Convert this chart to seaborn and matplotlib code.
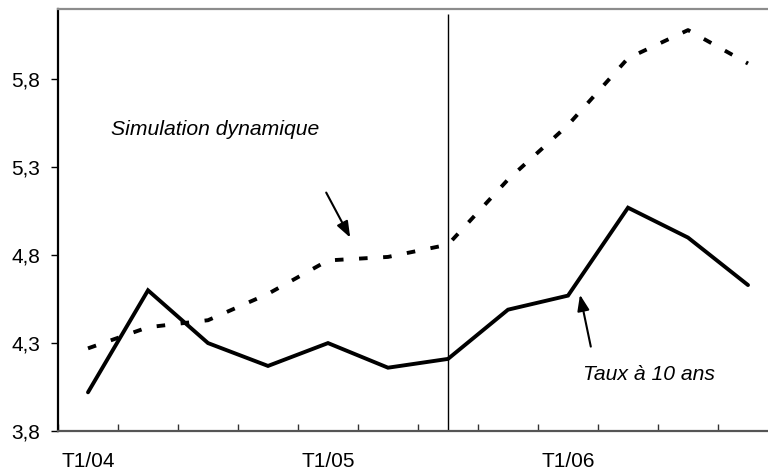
import numpy as np
import pandas as pd
import matplotlib
matplotlib.use("Agg")
import matplotlib.pyplot as plt
import seaborn as sns

# Data
quarters = ["T1/04", "T2/04", "T3/04", "T4/04",
            "T1/05", "T2/05", "T3/05", "T4/05",
            "T1/06", "T2/06", "T3/06", "T4/06"]
taux_10_ans = [4.02, 4.60, 4.30, 4.17, 4.30, 4.16, 4.21, 4.49, 4.57, 5.07, 4.90, 4.63]
simulation = [4.27, 4.39, 4.43, 4.58, 4.77, 4.79, 4.86, 5.23, 5.54, 5.92, 6.08, 5.89]
tick_labels = ["T1/04", "T1/05", "T1/06"]
tick_positions = [0, 4, 8]
y_ticks = [3.8, 4.3, 4.8, 5.3, 5.8]
split_index = 6

sns.set_theme(style="white")
plt.rcParams["font.family"] = ["Liberation Sans", "DejaVu Sans"]

df = pd.DataFrame({
    "x": list(range(len(quarters))) * 2,
    "valeur": taux_10_ans + simulation,
    "serie": ["Taux à 10 ans"] * len(quarters) + ["Simulation dynamique"] * len(quarters),
})

fig = plt.figure(figsize=(7.68, 4.76), dpi=100)
ax = fig.add_axes([58 / 768, 45 / 476, 720 / 768, 422 / 476])

lw = 2.8
sns.lineplot(data=df[df.serie == "Taux à 10 ans"], x="x", y="valeur", ax=ax,
             color="black", lw=lw, legend=False, solid_joinstyle="miter")
sns.lineplot(data=df[df.serie == "Simulation dynamique"], x="x", y="valeur", ax=ax,
             color="black", lw=lw, legend=False)
ax.lines[1].set_linestyle((0, (2.2, 4.0)))
ax.lines[1].set_dash_capstyle("butt")

ax.vlines(split_index, 3.8, 6.17, color="black", lw=1.0)

ax.set_xlim(-0.5, 11.5)
ax.set_ylim(3.8, 6.2)

ax.set_xticks(tick_positions)
ax.set_xticklabels(tick_labels)
ax.set_xticks(np.arange(-0.5, 12, 1), minor=True)
ax.tick_params(axis="x", which="major", length=0, pad=15, labelsize=15, colors="black")
ax.tick_params(axis="x", which="minor", length=5, direction="in", width=1, color="#333333",
               bottom=True)
ax.set_yticks(y_ticks)
ax.set_yticklabels([f"{v:.1f}".replace(".", ",") for v in y_ticks])
ax.tick_params(axis="y", which="major", length=5, direction="out", width=1, pad=8,
               labelsize=15, colors="black", left=True)
ax.set_xlabel("")
ax.set_ylabel("")

ax.spines["right"].set_visible(False)
ax.spines["top"].set_color("#8c8c8c")
ax.spines["top"].set_linewidth(1.6)
ax.spines["bottom"].set_color("#555555")
ax.spines["bottom"].set_linewidth(1.6)
ax.spines["left"].set_color("black")
ax.spines["left"].set_linewidth(1.6)

ax.text(0.38, 5.515, "Simulation dynamique", fontsize=15.2, style="italic",
        ha="left", va="center", color="black")
ax.text(8.25, 4.12, "Taux à 10 ans", fontsize=15.2, style="italic",
        ha="left", va="center", color="black")

arrow = dict(arrowstyle="-|>,head_length=0.8,head_width=0.3", color="black", lw=1.5,
             shrinkA=0, shrinkB=0)
ax.annotate("", xy=(4.37, 4.90), xytext=(3.97, 5.156), arrowprops=arrow)
ax.annotate("", xy=(8.2, 4.575), xytext=(8.38, 4.28), arrowprops=arrow)

fig.savefig("out.png", dpi=100)
